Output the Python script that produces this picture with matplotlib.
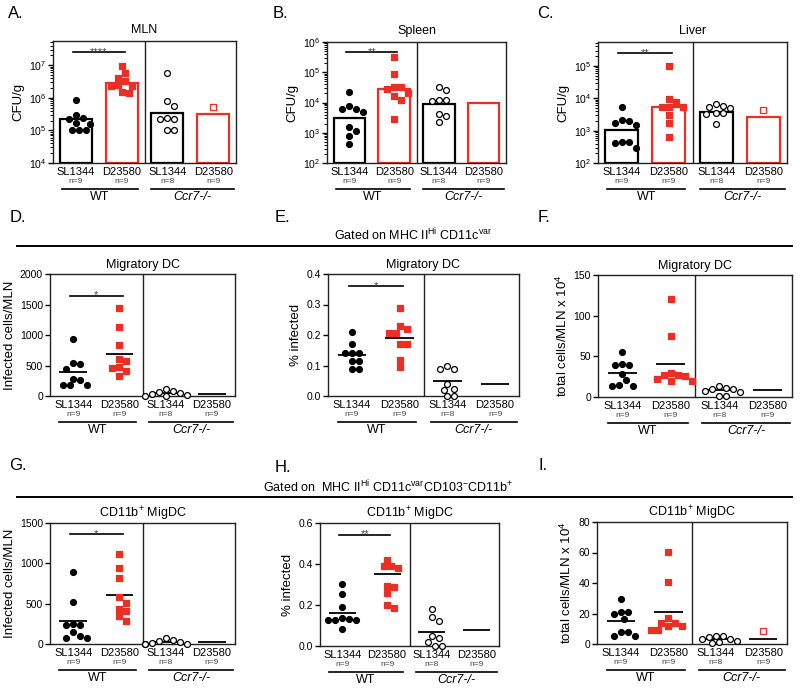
import matplotlib.pyplot as plt
from matplotlib.lines import Line2D
from matplotlib.ticker import LogLocator, MultipleLocator, FormatStrFormatter
import numpy as np

plt.rcParams['font.family'] = ['Liberation Sans', 'DejaVu Sans']
plt.rcParams['mathtext.default'] = 'regular'

W, H = 800, 690
RED = "#ec2f25"

groups = ["SL1344", "D23580", "SL1344", "D23580"]
n_text = ["n=9", "n=9", "n=8", "n=9"]
genotypes = ["WT", "Ccr7-/-"]

# --- A. MLN, CFU/g ---
mln_sl_wt = [8.3e5, 3.0e5, 2.4e5, 2.3e5, 1.7e5, 1.6e5, 1.05e5, 1.0e5, 1.0e5]
mln_d2_wt = [9.3e6, 5.7e6, 4.1e6, 3.2e6, 2.4e6, 2.3e6, 2.3e6, 1.5e6, 1.4e6]
mln_sl_ccr7 = [5.7e6, 7.7e5, 5.4e5, 2.4e5, 2.2e5, 2.2e5, 1.0e5, 1.0e5]
mln_d2_ccr7 = [5.2e5]
mln_bars = [2.2e5, 2.9e6, 3.5e5, 3.2e5]

# --- B. Spleen, CFU/g ---
spl_sl_wt = [2.3e4, 7.4e3, 6e3, 6e3, 5e3, 1.6e3, 1.1e3, 7.6e2, 4.2e2]
spl_d2_wt = [3.3e5, 8.9e4, 3.2e4, 3.2e4, 2.7e4, 2.1e4, 1.6e4, 1.2e4, 2.8e3]
spl_sl_ccr7 = [3.2e4, 2.5e4, 1.2e4, 1.2e4, 1.1e4, 4.2e3, 3.6e3, 2.3e3]
spl_d2_ccr7 = []
spl_bars = [3.0e3, 2.8e4, 9.1e3, 1.0e4]

# --- C. Liver, CFU/g ---
liv_sl_wt = [5.2e3, 2.2e3, 2.0e3, 1.7e3, 1.5e3, 4.6e2, 4.6e2, 4.1e2, 3.0e2]
liv_d2_wt = [9.8e4, 9.8e3, 7.8e3, 5.4e3, 5.4e3, 5.4e3, 3.0e3, 1.75e3, 6.2e2]
liv_sl_ccr7 = [6.5e3, 5.8e3, 5.4e3, 5.0e3, 3.5e3, 3.4e3, 3.3e3, 1.6e3]
liv_d2_ccr7 = [4.3e3]
liv_bars = [1.05e3, 5.4e3, 3.8e3, 2.7e3]

# --- D. Migratory DC, infected cells/MLN ---
dc_inf_sl_wt = [937, 548, 532, 449, 285, 258, 175, 175, 175]
dc_inf_d2_wt = [1447, 1134, 833, 603, 570, 477, 460, 411, 329]
dc_inf_sl_ccr7 = [120, 77, 66, 55, 30, 10, 5, 0]
dc_inf_d2_ccr7 = []
dc_inf_means = [395, 696, 49, 38]

# --- E. Migratory DC, % infected ---
dc_pct_sl_wt = [0.21, 0.17, 0.14, 0.14, 0.14, 0.114, 0.114, 0.09, 0.09]
dc_pct_d2_wt = [0.29, 0.23, 0.219, 0.208, 0.208, 0.17, 0.17, 0.119, 0.095]
dc_pct_sl_ccr7 = [0.099, 0.088, 0.087, 0.04, 0.024, 0.02, 0.0, 0.0]
dc_pct_d2_ccr7 = []
dc_pct_means = [0.136, 0.19, 0.048, 0.038]

# --- F. Migratory DC, total cells/MLN x 10^4 ---
dc_tot_sl_wt = [55.5, 41, 39, 39, 28.8, 20.5, 15, 13.6, 13.6]
dc_tot_d2_wt = [120.4, 75.2, 29.6, 27.5, 26.7, 25.9, 21.8, 19.7, 19.7]
dc_tot_sl_ccr7 = [13.6, 11.5, 10, 10, 7.4, 6.2, 1.2, 1.2]
dc_tot_d2_ccr7 = []
dc_tot_means = [29.6, 41, 8.2, 8.2]

# --- G. CD11b+ MigDC, infected cells/MLN ---
cd_inf_sl_wt = [896, 518, 247, 230, 230, 148, 95, 74, 74]
cd_inf_d2_wt = [1110, 945, 822, 579, 514, 436, 415, 349, 279]
cd_inf_sl_ccr7 = [70, 45, 40, 30, 10, 5, 0, 0]
cd_inf_d2_ccr7 = []
cd_inf_means = [279, 608, 20, 25]

# --- H. CD11b+ MigDC, % infected ---
cd_pct_sl_wt = [0.301, 0.252, 0.191, 0.139, 0.134, 0.129, 0.129, 0.129, 0.082]
cd_pct_d2_wt = [0.42, 0.39, 0.39, 0.38, 0.295, 0.29, 0.26, 0.20, 0.183]
cd_pct_sl_ccr7 = [0.18, 0.142, 0.123, 0.05, 0.04, 0.02, 0.0, 0.0]
cd_pct_d2_ccr7 = []
cd_pct_means = [0.163, 0.35, 0.069, 0.077]

# --- I. CD11b+ MigDC, total cells/MLN x 10^4 ---
cd_tot_sl_wt = [29.3, 20.7, 20.7, 19.6, 16.3, 7.8, 7.8, 5, 5]
cd_tot_d2_wt = [60.4, 40.9, 17, 13.7, 13.7, 11.5, 11.5, 9.3, 9.3]
cd_tot_sl_ccr7 = [5.5, 5, 4.5, 3.5, 3, 2, 1, 0.5]
cd_tot_d2_ccr7 = [8.3]
cd_tot_means = [15.2, 21.3, 3.5, 3.3]

fig = plt.figure(figsize=(8, 6.9), dpi=100)


def make_ax(l, t, r, b):
    return fig.add_axes([l / W, 1 - b / H, (r - l) / W, (b - t) / H])


def swarm(ax, x0, vals, gap=7.0):
    # simple beeswarm: shift points sideways until they stop overlapping
    if len(vals) == 0:
        return []
    pts = ax.transData.transform(np.column_stack([np.full(len(vals), x0), vals]))
    placed, xs = [], []
    for px, py in pts:
        for k in [0, 1, -1, 2, -2, 3, -3, 4, -4, 5, -5, 6, -6]:
            cx = px + k * gap * 0.5
            if all(np.hypot(cx - qx, py - qy) >= gap for qx, qy in placed):
                break
        placed.append((cx, py))
        xs.append(ax.transData.inverted().transform((cx, py))[0])
    return xs


def setup(ax, title, ylabel, ylim, log=False, step=None, fmt=None, title_pad=4):
    ax.set_xlim(-0.5, 3.5)
    if log:
        ax.set_yscale('log')
        ax.yaxis.set_major_locator(LogLocator(base=10, numticks=12))
    ax.set_ylim(*ylim)
    if step:
        ax.yaxis.set_major_locator(MultipleLocator(step))
    if fmt:
        ax.yaxis.set_major_formatter(FormatStrFormatter(fmt))
    ax.set_xticks([])
    ax.tick_params(axis='y', which='major', direction='out', length=3.5, width=1, labelsize=7.5, pad=1.5)
    ax.tick_params(axis='y', which='minor', direction='out', length=2, width=0.7)
    for s in ax.spines.values():
        s.set_linewidth(1.0)
        s.set_color('#222')
    ax.axvline(1.5, color='#222', lw=1.0)
    ax.set_title(title, fontsize=9, pad=title_pad)
    ax.set_ylabel(ylabel, fontsize=9.5, labelpad=3)

    h = ax.bbox.height
    tr = ax.get_xaxis_transform()
    for i in range(4):
        ax.text(i, -9 / h, groups[i], transform=tr, ha='center', va='center', fontsize=8)
        ax.text(i, -18.5 / h, n_text[i], transform=tr, ha='center', va='center', fontsize=6, color='#444')
    for (x0, x1), lab, style in zip([(-0.3, 1.35), (1.65, 3.45)], genotypes, ['normal', 'italic']):
        ax.add_line(Line2D([x0, x1], [-25.5 / h] * 2, transform=tr, clip_on=False, color='black', lw=1.2))
        ax.text((x0 + x1) / 2, -34 / h, lab, transform=tr, ha='center', va='center', fontsize=9, style=style)


def draw(ax, series, summary, bars=False, sig=None, stars=""):
    styles = [('o', 'black', 'black'), ('s', RED, RED), ('o', 'white', 'black'), ('s', 'white', RED)]
    for i, (vals, (mk, fc, ec)) in enumerate(zip(series, styles)):
        if bars:
            bottom = ax.get_ylim()[0]
            ax.bar(i, summary[i] - bottom, bottom=bottom, width=0.7, facecolor='white',
                   edgecolor=ec, linewidth=1.6, zorder=1)
        else:
            ax.hlines(summary[i], i - 0.3, i + 0.3, color='black', lw=1.3, zorder=2)
        xs = swarm(ax, i, vals)
        if len(vals):
            ax.scatter(xs, vals, s=18, marker=mk, facecolors=fc, edgecolors=ec,
                       linewidths=0.9, zorder=3, clip_on=False)
    if sig is not None:
        ax.plot([-0.07, 1.07], [sig, sig], color='black', lw=1.2, zorder=2)
        ax.annotate(stars, xy=(0.5, sig), xytext=(0, -3.5), textcoords='offset points',
                    ha='center', va='bottom', fontsize=8, color='#444')


# row 1
axA = make_ax(53, 41, 236, 163)
setup(axA, "MLN", "CFU/g", (1e4, 5.5e7), log=True, title_pad=6)
draw(axA, [mln_sl_wt, mln_d2_wt, mln_sl_ccr7, mln_d2_ccr7], mln_bars, bars=True, sig=2.5e7, stars="****")

axB = make_ax(327, 42, 506, 163)
setup(axB, "Spleen", "CFU/g", (1e2, 1e6), log=True, title_pad=6)
draw(axB, [spl_sl_wt, spl_d2_wt, spl_sl_ccr7, spl_d2_ccr7], spl_bars, bars=True, sig=4.5e5, stars="**")

axC = make_ax(598, 42, 787, 163)
setup(axC, "Liver", "CFU/g", (1e2, 5.5e5), log=True, title_pad=6)
draw(axC, [liv_sl_wt, liv_d2_wt, liv_sl_ccr7, liv_d2_ccr7], liv_bars, bars=True, sig=2.5e5, stars="**")

# row 2
axD = make_ax(50, 274, 235, 396)
setup(axD, "Migratory DC", "Infected cells/MLN", (0, 2000), step=500)
draw(axD, [dc_inf_sl_wt, dc_inf_d2_wt, dc_inf_sl_ccr7, dc_inf_d2_ccr7], dc_inf_means, sig=1644, stars="*")

axE = make_ax(328, 274, 519, 396)
setup(axE, "Migratory DC", "% infected", (0, 0.4), step=0.1, fmt='%.1f')
draw(axE, [dc_pct_sl_wt, dc_pct_d2_wt, dc_pct_sl_ccr7, dc_pct_d2_ccr7], dc_pct_means, sig=0.36, stars="*")

axF = make_ax(598, 275, 792, 397)
setup(axF, "Migratory DC", "total cells/MLN x 10$^{4}$", (0, 150), step=50)
draw(axF, [dc_tot_sl_wt, dc_tot_d2_wt, dc_tot_sl_ccr7, dc_tot_d2_ccr7], dc_tot_means)

# row 3
axG = make_ax(50, 523, 235, 644)
setup(axG, "CD11b$^{+}$ MigDC", "Infected cells/MLN", (0, 1500), step=500, title_pad=3)
draw(axG, [cd_inf_sl_wt, cd_inf_d2_wt, cd_inf_sl_ccr7, cd_inf_d2_ccr7], cd_inf_means, sig=1360, stars="*")

axH = make_ax(320, 523, 499, 646)
setup(axH, "CD11b$^{+}$ MigDC", "% infected", (0, 0.6), step=0.2, fmt='%.1f')
draw(axH, [cd_pct_sl_wt, cd_pct_d2_wt, cd_pct_sl_ccr7, cd_pct_d2_ccr7], cd_pct_means, sig=0.543, stars="**")

axI = make_ax(597, 522, 787, 644)
setup(axI, "CD11b$^{+}$ MigDC", "total cells/MLN x 10$^{4}$", (0, 80), step=20)
draw(axI, [cd_tot_sl_wt, cd_tot_d2_wt, cd_tot_sl_ccr7, cd_tot_d2_ccr7], cd_tot_means)

# panel letters
letters = ["A.", "B.", "C.", "D.", "E.", "F.", "G.", "H.", "I."]
letter_px = [(8, 14), (273, 14), (537, 14), (10, 217), (275, 218), (538, 218),
             (9, 465), (275, 468), (538, 465)]
for lab, (px, py) in zip(letters, letter_px):
    fig.text(px / W, 1 - py / H, lab, fontsize=12, ha='left', va='center')

# gating headers
fig.text(413 / W, 1 - 235 / H, "Gated on MHC II$^{Hi}$ CD11c$^{var}$", fontsize=9, ha='center', va='center')
fig.add_artist(Line2D([17 / W, 792 / W], [1 - 246 / H] * 2, transform=fig.transFigure, color='black', lw=1.4))
fig.text(388 / W, 1 - 487 / H, "Gated on  MHC II$^{Hi}$ CD11c$^{var}$CD103$^{-}$CD11b$^{+}$",
         fontsize=9, ha='center', va='center')
fig.add_artist(Line2D([17 / W, 792 / W], [1 - 497 / H] * 2, transform=fig.transFigure, color='black', lw=1.4))

fig.savefig("out.png", dpi=100)
